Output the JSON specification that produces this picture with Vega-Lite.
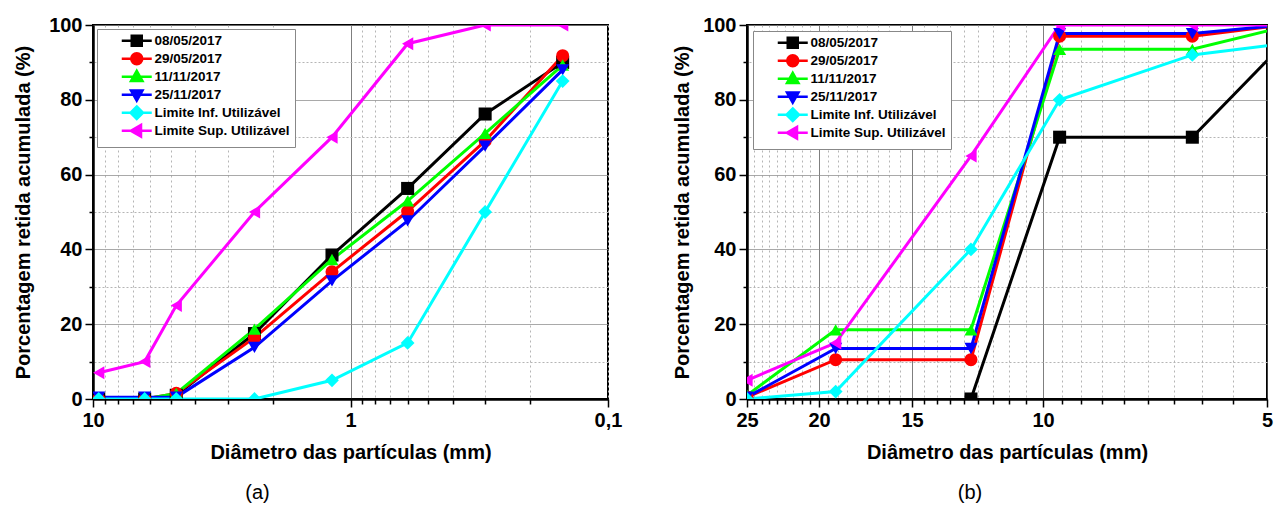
{
  "$schema": "https://vega.github.io/schema/vega-lite/v6.json",
  "background": "white",
  "padding": {"left": 12, "top": 14, "right": 8, "bottom": 5},
  "config": {
    "font": "Liberation Sans",
    "view": {"stroke": "black", "strokeWidth": 2},
    "axis": {
      "labelFont": "Liberation Sans", "labelFontSize": 20, "labelFontWeight": "bold", "labelColor": "black",
      "titleFont": "Liberation Sans", "titleFontSize": 20, "titleFontWeight": "bold", "titleColor": "black",
      "domainColor": "black", "domainWidth": 2.5, "tickColor": "black", "tickWidth": 1.5,
      "labelFlush": false, "labelOverlap": false, "grid": true, "gridWidth": 1, "labelPadding": 3
    },
    "legend": {
      "orient": "top-left", "offset": 5, "padding": 5, "gridAlign": "all",
      "strokeColor": "#888888", "fillColor": "white", "labelFont": "Liberation Sans", "labelFontSize": 13.5,
      "labelFontWeight": "bold", "labelColor": "black", "symbolSize": 100, "symbolStrokeWidth": 2.5,
      "symbolOpacity": 1, "rowPadding": -5.5, "symbolOffset": 28, "labelOffset": 11, "labelLimit": 300
    }
  },
  "datasets": {
    "fino": [
      {"serie": "08/05/2017", "d": 9.5, "p": 0}, {"serie": "08/05/2017", "d": 6.3, "p": 0}, {"serie": "08/05/2017", "d": 4.75, "p": 1}, {"serie": "08/05/2017", "d": 2.36, "p": 17.5}, {"serie": "08/05/2017", "d": 1.18, "p": 38.5}, {"serie": "08/05/2017", "d": 0.6, "p": 56.3}, {"serie": "08/05/2017", "d": 0.3, "p": 76.2}, {"serie": "08/05/2017", "d": 0.15, "p": 90},
      {"serie": "29/05/2017", "d": 9.5, "p": 0}, {"serie": "29/05/2017", "d": 6.3, "p": 0}, {"serie": "29/05/2017", "d": 4.75, "p": 1.5}, {"serie": "29/05/2017", "d": 2.36, "p": 16.4}, {"serie": "29/05/2017", "d": 1.18, "p": 34}, {"serie": "29/05/2017", "d": 0.6, "p": 50.2}, {"serie": "29/05/2017", "d": 0.3, "p": 69}, {"serie": "29/05/2017", "d": 0.15, "p": 91.8},
      {"serie": "11/11/2017", "d": 9.5, "p": 0}, {"serie": "11/11/2017", "d": 6.3, "p": 0}, {"serie": "11/11/2017", "d": 4.75, "p": 1.5}, {"serie": "11/11/2017", "d": 2.36, "p": 18.7}, {"serie": "11/11/2017", "d": 1.18, "p": 37.3}, {"serie": "11/11/2017", "d": 0.6, "p": 53}, {"serie": "11/11/2017", "d": 0.3, "p": 71}, {"serie": "11/11/2017", "d": 0.15, "p": 89.3},
      {"serie": "25/11/2017", "d": 9.5, "p": 0.5}, {"serie": "25/11/2017", "d": 6.3, "p": 0.5}, {"serie": "25/11/2017", "d": 4.75, "p": 0.5}, {"serie": "25/11/2017", "d": 2.36, "p": 13.8}, {"serie": "25/11/2017", "d": 1.18, "p": 31.6}, {"serie": "25/11/2017", "d": 0.6, "p": 47.6}, {"serie": "25/11/2017", "d": 0.3, "p": 67.6}, {"serie": "25/11/2017", "d": 0.15, "p": 88},
      {"serie": "Limite Inf. Utilizável", "d": 9.5, "p": 0}, {"serie": "Limite Inf. Utilizável", "d": 6.3, "p": 0}, {"serie": "Limite Inf. Utilizável", "d": 4.75, "p": 0}, {"serie": "Limite Inf. Utilizável", "d": 2.36, "p": 0}, {"serie": "Limite Inf. Utilizável", "d": 1.18, "p": 5}, {"serie": "Limite Inf. Utilizável", "d": 0.6, "p": 15}, {"serie": "Limite Inf. Utilizável", "d": 0.3, "p": 50}, {"serie": "Limite Inf. Utilizável", "d": 0.15, "p": 85},
      {"serie": "Limite Sup. Utilizável", "d": 9.5, "p": 7}, {"serie": "Limite Sup. Utilizável", "d": 6.3, "p": 10}, {"serie": "Limite Sup. Utilizável", "d": 4.75, "p": 25}, {"serie": "Limite Sup. Utilizável", "d": 2.36, "p": 50}, {"serie": "Limite Sup. Utilizável", "d": 1.18, "p": 70}, {"serie": "Limite Sup. Utilizável", "d": 0.6, "p": 95}, {"serie": "Limite Sup. Utilizável", "d": 0.3, "p": 100}, {"serie": "Limite Sup. Utilizável", "d": 0.15, "p": 100}
    ],
    "graudo": [
      {"serie": "08/05/2017", "d": 12.5, "p": 0}, {"serie": "08/05/2017", "d": 9.5, "p": 70}, {"serie": "08/05/2017", "d": 6.3, "p": 70}, {"serie": "08/05/2017", "d": 4.75, "p": 95},
      {"serie": "29/05/2017", "d": 25, "p": 0.5}, {"serie": "29/05/2017", "d": 19, "p": 10.5}, {"serie": "29/05/2017", "d": 12.5, "p": 10.5}, {"serie": "29/05/2017", "d": 9.5, "p": 97}, {"serie": "29/05/2017", "d": 6.3, "p": 97}, {"serie": "29/05/2017", "d": 4.75, "p": 100},
      {"serie": "11/11/2017", "d": 25, "p": 1}, {"serie": "11/11/2017", "d": 19, "p": 18.5}, {"serie": "11/11/2017", "d": 12.5, "p": 18.5}, {"serie": "11/11/2017", "d": 9.5, "p": 93.5}, {"serie": "11/11/2017", "d": 6.3, "p": 93.5}, {"serie": "11/11/2017", "d": 4.75, "p": 99.5},
      {"serie": "25/11/2017", "d": 25, "p": 0.5}, {"serie": "25/11/2017", "d": 19, "p": 13.5}, {"serie": "25/11/2017", "d": 12.5, "p": 13.5}, {"serie": "25/11/2017", "d": 9.5, "p": 97.7}, {"serie": "25/11/2017", "d": 6.3, "p": 97.7}, {"serie": "25/11/2017", "d": 4.75, "p": 100},
      {"serie": "Limite Inf. Utilizável", "d": 25, "p": 0}, {"serie": "Limite Inf. Utilizável", "d": 19, "p": 2}, {"serie": "Limite Inf. Utilizável", "d": 12.5, "p": 40}, {"serie": "Limite Inf. Utilizável", "d": 9.5, "p": 80}, {"serie": "Limite Inf. Utilizável", "d": 6.3, "p": 92}, {"serie": "Limite Inf. Utilizável", "d": 4.75, "p": 95},
      {"serie": "Limite Sup. Utilizável", "d": 25, "p": 5}, {"serie": "Limite Sup. Utilizável", "d": 19, "p": 15}, {"serie": "Limite Sup. Utilizável", "d": 12.5, "p": 65}, {"serie": "Limite Sup. Utilizável", "d": 9.5, "p": 100}, {"serie": "Limite Sup. Utilizável", "d": 6.3, "p": 100}, {"serie": "Limite Sup. Utilizável", "d": 4.75, "p": 100}
    ]
  },
  "spacing": 48,
  "resolve": {
    "scale": {"color": "independent", "fill": "independent", "stroke": "independent", "shape": "independent"},
    "legend": {"color": "independent", "fill": "independent", "stroke": "independent", "shape": "independent"}
  },
  "hconcat": [
    {
      "width": 515, "height": 374,
      "data": {"name": "fino"},
      "title": {"text": "(a)", "orient": "bottom", "fontSize": 20, "fontWeight": "normal", "font": "Liberation Sans", "dx": -93, "offset": 21, "color": "black"},
      "encoding": {
        "x": {"field": "d", "type": "quantitative", "title": "Diâmetro das partículas (mm)",
          "scale": {"type": "log", "domain": [0.1, 10], "reverse": true, "nice": false},
          "axis": {
            "values": [10, 9, 8, 7, 6, 5, 4, 3, 2, 1, 0.9, 0.8, 0.7, 0.6, 0.5, 0.4, 0.3, 0.2, 0.1],
            "labelExpr": "datum.value == 10 ? '10' : (datum.value == 1 ? '1' : (abs(datum.value - 0.1) < 0.000001 ? '0,1' : ''))",
            "tickSize": {"condition": {"test": "datum.value == 10 || datum.value == 1 || abs(datum.value - 0.1) < 0.000001", "value": 8}, "value": 5},
            "gridDash": {"condition": {"test": "datum.value == 1", "value": [1, 0]}, "value": [2, 3]},
            "gridColor": {"condition": {"test": "datum.value == 1", "value": "#555555"}, "value": "#b5b5b5"},
            "titlePadding": 12
          }
        },
        "y": {"field": "p", "type": "quantitative", "title": "Porcentagem retida acumulada (%)",
          "scale": {"domain": [0, 100], "nice": false},
          "axis": {
            "values": [0, 10, 20, 30, 40, 50, 60, 70, 80, 90, 100],
            "labelExpr": "datum.value % 20 == 0 ? '' + datum.value : ''",
            "tickSize": {"condition": {"test": "datum.value % 20 == 0", "value": 8}, "value": 4},
            "gridDash": {"condition": {"test": "datum.value % 20 == 0", "value": [1, 0]}, "value": [2, 2]},
            "gridColor": {"condition": {"test": "datum.value % 20 == 0", "value": "#8c8c8c"}, "value": "#b5b5b5"},
            "titlePadding": 15
          }
        }
      },
      "layer": [
        {"mark": {"type": "line", "strokeWidth": 3, "clip": true},
         "encoding": {"color": {"field": "serie", "type": "nominal",
           "scale": {"domain": ["08/05/2017", "29/05/2017", "11/11/2017", "25/11/2017", "Limite Inf. Utilizável", "Limite Sup. Utilizável"], "range": ["#000000", "#ff0000", "#00ff00", "#0000ff", "#00ffff", "#ff00ff"]},
           "legend": {"offset": 4, "title": null}}}},
        {"transform": [{"filter": "datum.serie == '08/05/2017'"}], "mark": {"type": "point", "shape": "square", "filled": true, "size": 170, "opacity": 1, "color": "#000000", "clip": true}},
        {"transform": [{"filter": "datum.serie == '29/05/2017'"}], "mark": {"type": "point", "shape": "circle", "filled": true, "size": 170, "opacity": 1, "color": "#ff0000", "clip": true}},
        {"transform": [{"filter": "datum.serie == '11/11/2017'"}], "mark": {"type": "point", "shape": "triangle-up", "filled": true, "size": 170, "opacity": 1, "color": "#00ff00", "clip": true}},
        {"transform": [{"filter": "datum.serie == '25/11/2017'"}], "mark": {"type": "point", "shape": "triangle-down", "filled": true, "size": 170, "opacity": 1, "color": "#0000ff", "clip": true}},
        {"transform": [{"filter": "datum.serie == 'Limite Inf. Utilizável'"}], "mark": {"type": "point", "shape": "diamond", "filled": true, "size": 190, "opacity": 1, "color": "#00ffff", "clip": true}},
        {"transform": [{"filter": "datum.serie == 'Limite Sup. Utilizável'"}], "mark": {"type": "point", "shape": "triangle-left", "filled": true, "size": 170, "opacity": 1, "color": "#ff00ff", "clip": true}},
        {"mark": {"type": "point", "filled": true, "opacity": 0, "clip": true},
         "encoding": {
           "fill": {"field": "serie", "type": "nominal",
             "scale": {"domain": ["08/05/2017", "29/05/2017", "11/11/2017", "25/11/2017", "Limite Inf. Utilizável", "Limite Sup. Utilizável"], "range": ["#000000", "#ff0000", "#00ff00", "#0000ff", "#00ffff", "#ff00ff"]},
             "legend": {"offset": 4, "title": null}},
           "stroke": {"field": "serie", "type": "nominal",
             "scale": {"domain": ["08/05/2017", "29/05/2017", "11/11/2017", "25/11/2017", "Limite Inf. Utilizável", "Limite Sup. Utilizável"], "range": ["#000000", "#ff0000", "#00ff00", "#0000ff", "#00ffff", "#ff00ff"]},
             "legend": {"offset": 4, "title": null}},
           "shape": {"field": "serie", "type": "nominal",
             "scale": {"domain": ["08/05/2017", "29/05/2017", "11/11/2017", "25/11/2017", "Limite Inf. Utilizável", "Limite Sup. Utilizável"], "range": ["M-3,0H3M-1,-1H1V1H-1Z", "M-3,0H3M1.1,0A1.1,1.1 0 1,1 -1.1,0A1.1,1.1 0 1,1 1.1,0Z", "M-3,0H3M0,-1.2L1.15,0.85H-1.15Z", "M-3,0H3M0,1.2L1.15,-0.85H-1.15Z", "M-3,0H3M0,-1.25L1.25,0L0,1.25L-1.25,0Z", "M-3,0H3M-1.2,0L0.85,-1.15V1.15Z"]},
             "legend": {"offset": 4, "title": null}}
         }}
      ]
    },
    {
      "width": 520, "height": 374,
      "data": {"name": "graudo"},
      "title": {"text": "(b)", "orient": "bottom", "fontSize": 20, "fontWeight": "normal", "font": "Liberation Sans", "dx": -37, "offset": 21, "color": "black"},
      "encoding": {
        "x": {"field": "d", "type": "quantitative", "title": "Diâmetro das partículas (mm)",
          "scale": {"type": "log", "domain": [5, 25], "reverse": true, "nice": false},
          "axis": {
            "values": [25, 24.444, 23.889, 23.333, 22.778, 22.222, 21.667, 21.111, 20.556, 20, 19.444, 18.889, 18.333, 17.778, 17.222, 16.667, 16.111, 15.556, 15, 14.444, 13.889, 13.333, 12.778, 12.222, 11.667, 11.111, 10.556, 10, 9.444, 8.889, 8.333, 7.778, 7.222, 6.667, 6.111, 5.556, 5],
            "labelExpr": "datum.value % 5 == 0 ? '' + datum.value : ''",
            "tickSize": {"condition": {"test": "datum.value % 5 == 0", "value": 8}, "value": 5},
            "gridDash": {"condition": {"test": "datum.value % 5 == 0", "value": [1, 0]}, "value": [2, 3]},
            "gridColor": {"condition": {"test": "datum.value % 5 == 0", "value": "#555555"}, "value": "#b5b5b5"},
            "titlePadding": 12
          }
        },
        "y": {"field": "p", "type": "quantitative", "title": "Porcentagem retida acumulada (%)",
          "scale": {"domain": [0, 100], "nice": false},
          "axis": {
            "values": [0, 10, 20, 30, 40, 50, 60, 70, 80, 90, 100],
            "labelExpr": "datum.value % 20 == 0 ? '' + datum.value : ''",
            "tickSize": {"condition": {"test": "datum.value % 20 == 0", "value": 8}, "value": 4},
            "gridDash": {"condition": {"test": "datum.value % 20 == 0", "value": [1, 0]}, "value": [2, 2]},
            "gridColor": {"condition": {"test": "datum.value % 20 == 0", "value": "#8c8c8c"}, "value": "#b5b5b5"},
            "titlePadding": 10
          }
        }
      },
      "layer": [
        {"mark": {"type": "line", "strokeWidth": 3, "clip": true},
         "encoding": {"color": {"field": "serie", "type": "nominal",
           "scale": {"domain": ["08/05/2017", "29/05/2017", "11/11/2017", "25/11/2017", "Limite Inf. Utilizável", "Limite Sup. Utilizável"], "range": ["#000000", "#ff0000", "#00ff00", "#0000ff", "#00ffff", "#ff00ff"]},
           "legend": {"offset": 6, "title": null}}}},
        {"transform": [{"filter": "datum.serie == '08/05/2017'"}], "mark": {"type": "point", "shape": "square", "filled": true, "size": 170, "opacity": 1, "color": "#000000", "clip": true}},
        {"transform": [{"filter": "datum.serie == '29/05/2017'"}], "mark": {"type": "point", "shape": "circle", "filled": true, "size": 170, "opacity": 1, "color": "#ff0000", "clip": true}},
        {"transform": [{"filter": "datum.serie == '11/11/2017'"}], "mark": {"type": "point", "shape": "triangle-up", "filled": true, "size": 170, "opacity": 1, "color": "#00ff00", "clip": true}},
        {"transform": [{"filter": "datum.serie == '25/11/2017'"}], "mark": {"type": "point", "shape": "triangle-down", "filled": true, "size": 170, "opacity": 1, "color": "#0000ff", "clip": true}},
        {"transform": [{"filter": "datum.serie == 'Limite Inf. Utilizável'"}], "mark": {"type": "point", "shape": "diamond", "filled": true, "size": 190, "opacity": 1, "color": "#00ffff", "clip": true}},
        {"transform": [{"filter": "datum.serie == 'Limite Sup. Utilizável'"}], "mark": {"type": "point", "shape": "triangle-left", "filled": true, "size": 170, "opacity": 1, "color": "#ff00ff", "clip": true}},
        {"mark": {"type": "point", "filled": true, "opacity": 0, "clip": true},
         "encoding": {
           "fill": {"field": "serie", "type": "nominal",
             "scale": {"domain": ["08/05/2017", "29/05/2017", "11/11/2017", "25/11/2017", "Limite Inf. Utilizável", "Limite Sup. Utilizável"], "range": ["#000000", "#ff0000", "#00ff00", "#0000ff", "#00ffff", "#ff00ff"]},
             "legend": {"offset": 6, "title": null}},
           "stroke": {"field": "serie", "type": "nominal",
             "scale": {"domain": ["08/05/2017", "29/05/2017", "11/11/2017", "25/11/2017", "Limite Inf. Utilizável", "Limite Sup. Utilizável"], "range": ["#000000", "#ff0000", "#00ff00", "#0000ff", "#00ffff", "#ff00ff"]},
             "legend": {"offset": 6, "title": null}},
           "shape": {"field": "serie", "type": "nominal",
             "scale": {"domain": ["08/05/2017", "29/05/2017", "11/11/2017", "25/11/2017", "Limite Inf. Utilizável", "Limite Sup. Utilizável"], "range": ["M-3,0H3M-1,-1H1V1H-1Z", "M-3,0H3M1.1,0A1.1,1.1 0 1,1 -1.1,0A1.1,1.1 0 1,1 1.1,0Z", "M-3,0H3M0,-1.2L1.15,0.85H-1.15Z", "M-3,0H3M0,1.2L1.15,-0.85H-1.15Z", "M-3,0H3M0,-1.25L1.25,0L0,1.25L-1.25,0Z", "M-3,0H3M-1.2,0L0.85,-1.15V1.15Z"]},
             "legend": {"offset": 6, "title": null}}
         }}
      ]
    }
  ]
}
